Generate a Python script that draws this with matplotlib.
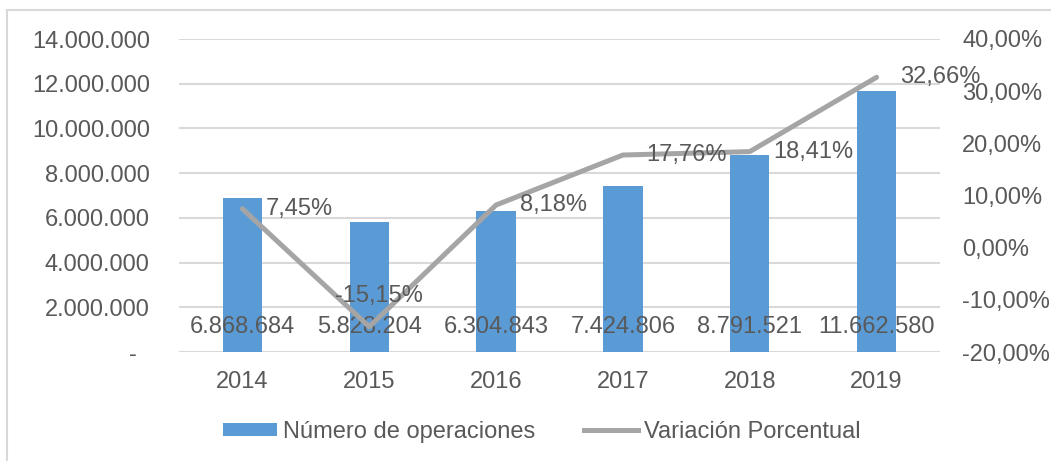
import matplotlib
matplotlib.use("Agg")
import matplotlib.pyplot as plt
from matplotlib.patches import Rectangle
from matplotlib.lines import Line2D
from matplotlib.patches import Patch

years = ["2014", "2015", "2016", "2017", "2018", "2019"]
operaciones = [6868684, 5828204, 6304843, 7424806, 8791521, 11662580]
variacion = [0.0745, -0.1515, 0.0818, 0.1776, 0.1841, 0.3266]
bar_labels = ["6.868.684", "5.828.204", "6.304.843", "7.424.806", "8.791.521", "11.662.580"]
pct_labels = ["7,45%", "-15,15%", "8,18%", "17,76%", "18,41%", "32,66%"]
left_ticks = [0, 2e6, 4e6, 6e6, 8e6, 10e6, 12e6, 14e6]
left_ticklabels = ["-  ", "2.000.000", "4.000.000", "6.000.000", "8.000.000",
                   "10.000.000", "12.000.000", "14.000.000"]
right_ticks = [-0.2, -0.1, 0.0, 0.1, 0.2, 0.3, 0.4]
right_ticklabels = ["-20,00%", "-10,00%", "0,00%", "10,00%", "20,00%", "30,00%", "40,00%"]

BAR = "#5B9BD5"
LINE = "#A5A5A5"
TXT = "#595959"
GRID = "#D9D9D9"
FS = 17

plt.rcParams['font.family'] = ['Liberation Sans', 'DejaVu Sans']
W, H = 1051, 461
fig = plt.figure(figsize=(W / 100, H / 100), dpi=100)

# outer border
fig.patches.append(Rectangle((7 / W, 0 - 0.01), 1.02, (H - 10) / H + 0.01,
                             transform=fig.transFigure, fill=False,
                             edgecolor="#D9D9D9", linewidth=1.5))

ax = fig.add_axes([179 / W, (H - 352) / H, 761 / W, 313 / H])
x = list(range(len(years)))
ax.bar(x, operaciones, width=0.31, color=BAR, zorder=2)
ax.set_ylim(0, 14e6)
ax.set_xlim(-0.5, len(years) - 0.5)
ax.set_yticks(left_ticks)
ax.set_yticklabels(left_ticklabels)
ax.set_xticks(x)
ax.set_xticklabels(years)
ax.tick_params(axis='y', length=0, pad=21, labelsize=FS, labelcolor=TXT)
ax.tick_params(axis='x', length=0, pad=14, labelsize=FS, labelcolor=TXT)
ax.grid(axis='y', color=GRID, linewidth=1.5, zorder=0)
ax.set_axisbelow(True)
for s in ax.spines.values():
    s.set_visible(False)

for xi, lab in zip(x, bar_labels):
    ax.annotate(lab, xy=(xi, 0), xytext=(0, 18), textcoords='offset points',
                ha='center', va='center', fontsize=FS, color=TXT, zorder=5)

ax2 = ax.twinx()
ax2.plot(x, variacion, color=LINE, linewidth=3.6, solid_capstyle='round', zorder=3)
ax2.set_ylim(-0.2, 0.4)
ax2.set_yticks(right_ticks)
ax2.set_yticklabels(right_ticklabels)
ax2.tick_params(axis='y', length=0, pad=16, labelsize=FS, labelcolor=TXT)
for s in ax2.spines.values():
    s.set_visible(False)

for i, (xi, v, lab) in enumerate(zip(x, variacion, pct_labels)):
    if v < 0:
        ax2.annotate(lab, xy=(xi, v), xytext=(7, 22), textcoords='offset points',
                     ha='center', va='center', fontsize=FS, color=TXT, zorder=5)
    else:
        ax2.annotate(lab, xy=(xi, v), xytext=(17, 0), textcoords='offset points',
                     ha='left', va='center', fontsize=FS, color=TXT, zorder=5)

handles = [Patch(facecolor=BAR, edgecolor='none'),
           Line2D([0], [0], color=LINE, linewidth=3.6)]
fig.legend(handles, ["Número de operaciones", "Variación Porcentual"],
           loc='center', bbox_to_anchor=(542 / W, (H - 432) / H), ncol=2,
           frameon=False, fontsize=FS, labelcolor=TXT, handlelength=2.3,
           handleheight=0.5, columnspacing=2.05, handletextpad=0.25)

fig.savefig("out.png", dpi=100)
